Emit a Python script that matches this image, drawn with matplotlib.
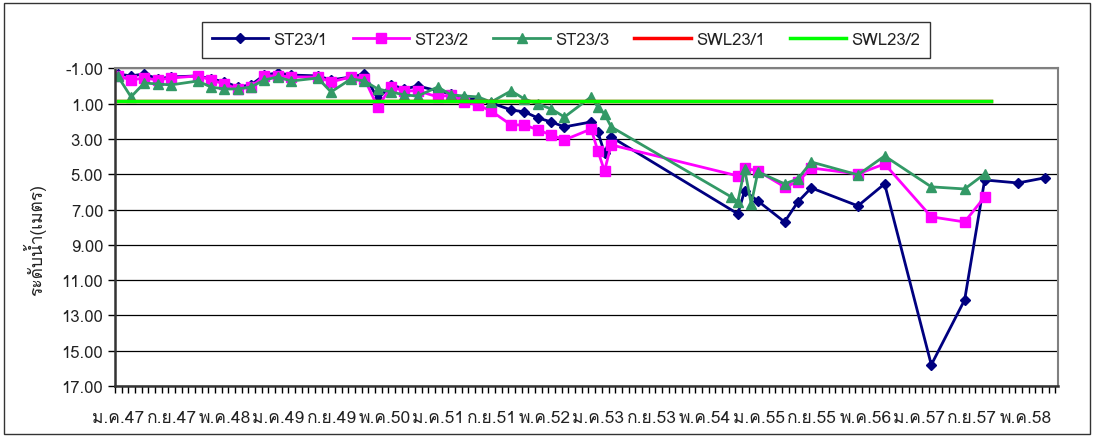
import matplotlib
matplotlib.use('Agg')
import matplotlib.pyplot as plt
from matplotlib import font_manager, ft2font
from matplotlib.patches import Rectangle

# months counted from ม.ค.47 (Jan 2004) = 0
months1 = [0, 2, 4, 6, 8, 12, 14, 16, 18, 20, 22, 24, 26, 30, 32, 35, 37, 39, 41, 43, 45,
           48, 50, 52, 54, 56, 59, 61, 63, 65, 67, 71, 72, 73, 74,
           93, 94, 96, 100, 102, 104, 111, 115, 122, 127, 130, 135, 139]
st23_1 = [-0.69, -0.58, -0.69, -0.41, -0.52, -0.58, -0.41, -0.24, 0.05, -0.07, -0.63, -0.75,
          -0.63, -0.58, -0.35, -0.52, -0.69, 0.73, -0.07, 0.16, -0.01,
          0.27, 0.44, 0.67, 0.78, 0.95, 1.35, 1.46, 1.80, 2.03, 2.31, 2.03, 2.60, 3.79, 2.88,
          7.24, 5.94, 6.51, 7.70, 6.56, 5.77, 6.79, 5.54, 15.80, 12.12, 5.32, 5.49, 5.20]

months2 = [0, 2, 4, 6, 8, 12, 14, 16, 18, 20, 22, 24, 26, 30, 32, 35, 37, 39, 41, 43, 45,
           48, 50, 52, 54, 56, 59, 61, 63, 65, 67, 71, 72, 73, 74,
           93, 94, 96, 100, 102, 104, 111, 115, 122, 127, 130]
st23_2 = [-0.58, -0.35, -0.46, -0.35, -0.46, -0.58, -0.35, -0.12, 0.16, 0.05, -0.58, -0.58,
          -0.52, -0.52, -0.24, -0.52, -0.41, 1.18, 0.05, 0.27, 0.27,
          0.61, 0.50, 0.90, 1.07, 1.41, 2.20, 2.20, 2.48, 2.77, 3.05, 2.43, 3.67, 4.81, 3.33,
          5.09, 4.64, 4.81, 5.71, 5.43, 4.64, 4.98, 4.41, 7.41, 7.70, 6.28]

months3 = [0, 2, 4, 6, 8, 12, 14, 16, 18, 20, 22, 24, 26, 30, 32, 35, 37, 39, 41, 43, 45,
           48, 50, 52, 54, 56, 59, 61, 63, 65, 67, 71, 72, 73, 74,
           92, 93, 94, 95, 96, 100, 102, 104, 111, 115, 122, 127, 130]
st23_3 = [-0.58, 0.61, -0.18, -0.12, -0.07, -0.29, 0.05, 0.16, 0.16, 0.05, -0.35, -0.52,
          -0.29, -0.46, 0.33, -0.41, -0.29, 0.16, 0.33, 0.50, 0.56,
          0.05, 0.50, 0.56, 0.61, 0.90, 0.27, 0.73, 1.01, 1.29, 1.75, 0.61, 1.18, 1.58, 2.31,
          6.28, 6.56, 4.69, 6.68, 4.86, 5.54, 5.26, 4.30, 5.03, 3.96, 5.71, 5.83, 4.98]

swl_months = [0, 131]
swl23_1 = [0.85, 0.85]
swl23_2 = [0.85, 0.85]

tick_labels = ['ม.ค.47', 'ก.ย.47', 'พ.ค.48', 'ม.ค.49', 'ก.ย.49', 'พ.ค.50', 'ม.ค.51', 'ก.ย.51',
               'พ.ค.52', 'ม.ค.53', 'ก.ย.53', 'พ.ค.54', 'ม.ค.55', 'ก.ย.55', 'พ.ค.56', 'ม.ค.57',
               'ก.ย.57', 'พ.ค.58']


def findThaiFont():
    for f in font_manager.fontManager.ttflist:
        try:
            if 0x0E21 in ft2font.FT2Font(f.fname).get_charmap():
                return f.name
        except Exception:
            pass
    return None


thai = findThaiFont()
fams = [thai, 'DejaVu Sans'] if thai else ['DejaVu Sans']
plt.rcParams['font.family'] = fams

fig = plt.figure(figsize=(10.94, 4.39), dpi=100)
ax = fig.add_axes([0.1051, 0.1185, 0.862, 0.7232])

off = 0.4
ax.plot([m + off for m in months1], st23_1, '-', color='#000080', lw=2,
        marker='D', ms=5.5, label='ST23/1')
ax.plot([m + off for m in months2], st23_2, '-', color='#FF00FF', lw=2,
        marker='s', ms=7, label='ST23/2')
ax.plot([m + off for m in months3], st23_3, '-', color='#339966', lw=2,
        marker='^', ms=7.5, label='ST23/3')
ax.plot([m + off for m in swl_months], swl23_1, '-', color='#FF0000', lw=2.5, label='SWL23/1')
ax.plot([m + off for m in swl_months], swl23_2, '-', color='#00FF00', lw=2.5, label='SWL23/2')

ax.set_xlim(0, 141.4)
ax.set_ylim(17, -1)
ax.set_yticks(range(-1, 18, 2))
ax.set_yticklabels(['%.2f' % v for v in range(-1, 18, 2)], fontsize=12, color='#222222')
ax.yaxis.grid(True, color='black', lw=0.9)
ax.tick_params(axis='y', length=5, width=1, direction='out')

ax.set_xticks(range(0, 142), minor=True)
ax.set_xticks([8 * i + 0.5 for i in range(len(tick_labels))])
ax.set_xticklabels(tick_labels, fontsize=12.5, color='#222222')
ax.tick_params(axis='x', which='major', length=0, pad=17)
ax.tick_params(axis='x', which='minor', length=5, width=1, direction='out')

for s in ['top', 'right']:
    ax.spines[s].set_color('#808080')
    ax.spines[s].set_linewidth(1.5)
for s in ['left', 'bottom']:
    ax.spines[s].set_color('#333333')
    ax.spines[s].set_linewidth(1.8)

fig.text(35 / 1094, 1 - 240 / 439, 'ระดับน้ำ(เมตร)', rotation=90, fontsize=12.5,
         ha='center', va='center', color='#222222')

leg = fig.legend(loc='center', bbox_to_anchor=(566 / 1094, 1 - 41 / 439), ncol=5,
                 fontsize=12, frameon=True, fancybox=False, handlelength=3.4,
                 columnspacing=1.5, handletextpad=0.3, borderpad=0.6)
leg.get_frame().set_edgecolor('black')
leg.get_frame().set_linewidth(1)
for t in leg.get_texts():
    t.set_color('#222222')

fig.patches.append(Rectangle((4 / 1094, 4 / 439), 1 - 8 / 1094, 1 - 8 / 439,
                             transform=fig.transFigure, fill=False, edgecolor='#333333', lw=1))

fig.savefig('out.png', dpi=100)
